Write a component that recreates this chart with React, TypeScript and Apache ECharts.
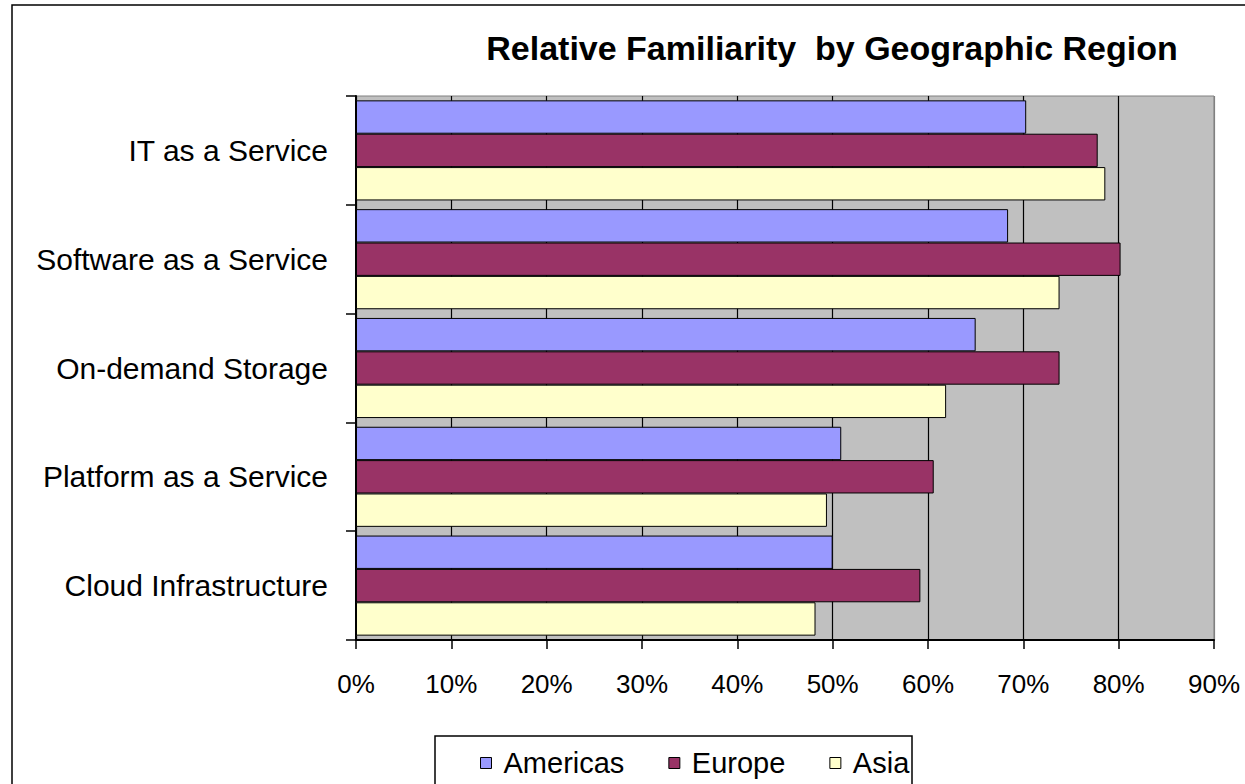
import React, { useEffect, useRef } from "react";
import * as echarts from "echarts";

const categories = [
  "IT as a Service",
  "Software as a Service",
  "On-demand Storage",
  "Platform as a Service",
  "Cloud Infrastructure",
];
const americas = [70.3, 68.4, 65.0, 50.9, 50.0];
const europe = [77.8, 80.2, 73.8, 60.6, 59.2];
const asia = [78.6, 73.8, 61.9, 49.4, 48.2];
const seriesNames = ["Americas", "Europe", "Asia"];
const colors = ["#9999FF", "#993366", "#FFFFCC"];
const titleText = "Relative Familiarity  by Geographic Region";

const FONT = "'Liberation Sans', Arial, Helvetica, sans-serif";

export default function App() {
  const ref = useRef<HTMLDivElement>(null);
  useEffect(() => {
    if (!ref.current) return;
    const chart = echarts.init(ref.current, undefined, { renderer: "svg" });
    const values = [americas, europe, asia];
    const splitColors = ["#000", "#000", "#000", "#000", "#000", "#000", "#000", "#000", "#000", "#808080"];
    chart.setOption({
      animation: false,
      backgroundColor: "#FFFFFF",
      textStyle: { fontFamily: FONT },
      graphic: [
        {
          type: "rect",
          z: -10,
          shape: { x: 12, y: 5, width: 1400, height: 1000 },
          style: { fill: "transparent", stroke: "#000", lineWidth: 1.5 },
        },
        {
          type: "rect",
          z: -5,
          shape: { x: 435, y: 736, width: 477, height: 200 },
          style: { fill: "#FFFFFF", stroke: "#000", lineWidth: 1.5 },
        },
        {
          type: "text",
          x: 832,
          y: 48,
          style: {
            text: titleText,
            fontFamily: FONT,
            fontSize: 34,
            fontWeight: "bold",
            fill: "#000",
            textAlign: "center",
            textVerticalAlign: "middle",
          },
        },
      ],
      legend: {
        left: 480,
        top: 748,
        padding: 0,
        icon: "rect",
        itemWidth: 11,
        itemHeight: 11,
        itemGap: 44,
        data: seriesNames,
        itemStyle: { borderColor: "#000", borderWidth: 1 },
        textStyle: {
          fontFamily: FONT,
          fontSize: 29,
          color: "#000",
          lineHeight: 30,
          padding: [0, 0, 0, 7],
        },
      },
      grid: {
        left: 356,
        top: 96,
        right: 31,
        bottom: 144,
        show: true,
        backgroundColor: "#C0C0C0",
        borderColor: "#808080",
        borderWidth: 1,
      },
      xAxis: {
        type: "value",
        min: 0,
        max: 90,
        interval: 10,
        axisLine: { show: true, lineStyle: { color: "#000", width: 2 } },
        axisTick: { show: true, length: 9, lineStyle: { color: "#000", width: 1.5 } },
        axisLabel: {
          formatter: "{value}%",
          fontFamily: FONT,
          fontSize: 26,
          color: "#000",
          margin: 31,
        },
        splitLine: { show: true, lineStyle: { color: splitColors, width: 1.2 } },
      },
      yAxis: {
        type: "category",
        data: categories,
        inverse: true,
        axisLine: { show: true, lineStyle: { color: "#000", width: 2 } },
        axisTick: { show: true, length: 10, lineStyle: { color: "#000", width: 1.5 } },
        axisLabel: {
          fontFamily: FONT,
          fontSize: 30,
          color: "#000",
          margin: 28,
        },
        splitLine: { show: false },
      },
      series: seriesNames.map((name, i) => ({
        name,
        type: "bar",
        data: values[i],
        barGap: "0%",
        barCategoryGap: "8%",
        itemStyle: { color: colors[i], borderColor: "#000", borderWidth: 1 },
      })),
    });
    return () => chart.dispose();
  }, []);
  return (
    <div
      ref={ref}
      style={{ position: "fixed", left: 0, top: 0, width: 1245, height: 784 }}
    />
  );
}
